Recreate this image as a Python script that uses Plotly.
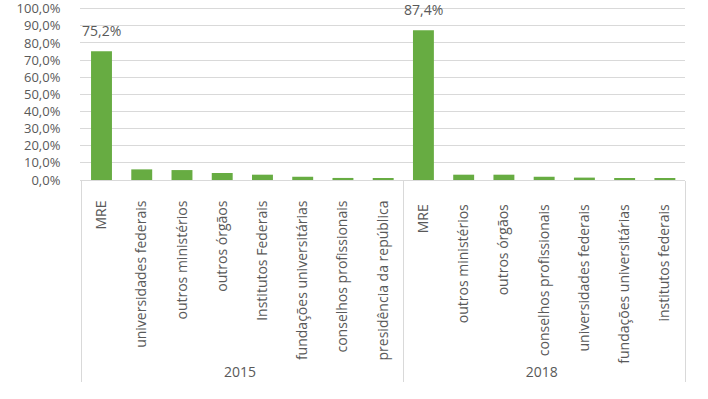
import plotly.graph_objects as go

years_2015 = ["2015"] * 8
cats_2015 = ["MRE", "universidades federais", "outros ministérios", "outros órgãos",
             "Institutos Federais", "fundações universitárias", "conselhos profissionais",
             "presidência da república"]
vals_2015 = [75.2, 6.2, 5.8, 4.1, 3.1, 1.9, 1.2, 1.1]

years_2018 = ["2018"] * 7
cats_2018 = ["MRE", "outros ministérios", "outros órgãos", "conselhos profissionais",
             "universidades federais", "fundações universitárias", "institutos federais"]
vals_2018 = [87.4, 3.1, 3.1, 1.9, 1.4, 0.8, 0.6]

labels_2015 = ["75,2%"] + [""] * 7
labels_2018 = ["87,4%"] + [""] * 6

# keep 2018 inner categories distinct so each group keeps its own order
inner = cats_2015 + [c + " " for c in cats_2018]
x = [years_2015 + years_2018, inner]
y = vals_2015 + vals_2018
text = labels_2015 + labels_2018

fig = go.Figure(go.Bar(
    x=x, y=y,
    marker=dict(color="#67AC42", line=dict(width=0)),
    hoverinfo="skip",
))

# data labels above the bars (only where a label exists)
for i, (val, lab) in enumerate(zip(y, text)):
    if lab:
        fig.add_annotation(x=i, y=val, text=lab, showarrow=False,
                           yanchor="bottom", yshift=9,
                           font=dict(size=14, color="#595959"))

fig.update_layout(
    width=708, height=399,
    margin=dict(l=80, r=23, t=7, b=219),
    paper_bgcolor="white", plot_bgcolor="white",
    font=dict(family="Open Sans, sans-serif", color="#595959", size=14),
    separators=",.",
    bargap=0.48,
    showlegend=False,
)
fig.update_yaxes(range=[0, 101], dtick=10,
                 tickformat=".1f", ticksuffix="%", automargin=False,
                 ticklabeloverflow="allow",
                 gridcolor="#D9D9D9", gridwidth=1, zeroline=False,
                 ticks="outside", ticklen=16, tickcolor="rgba(0,0,0,0)",
                 tickfont=dict(size=13, color="#595959"), showline=False)
fig.update_xaxes(tickangle=-90, showline=True, linecolor="#D9D9D9", automargin=False,
                 dividercolor="#D9D9D9", dividerwidth=1,
                 ticklabelstandoff=14,
                 tickfont=dict(size=14, color="#595959"))

fig.write_html("out.html", config={"displayModeBar": False},
               post_script="document.body.style.margin='0';")
